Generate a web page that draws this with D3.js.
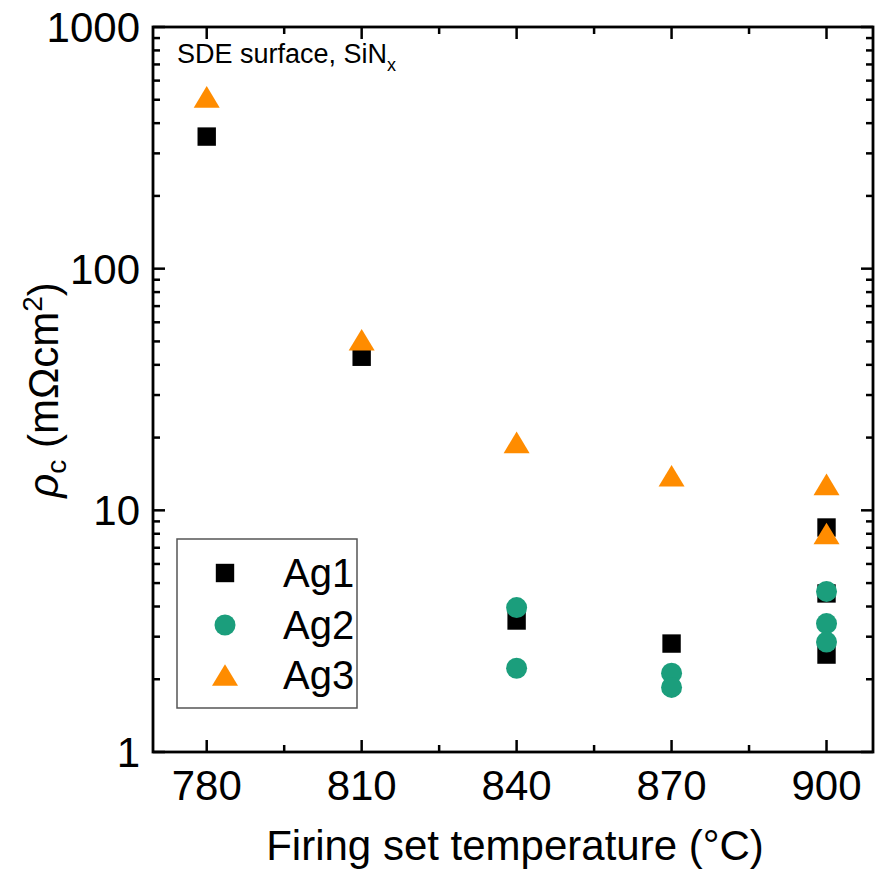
<!DOCTYPE html>
<html>
<head>
<meta charset="utf-8">
<script src="https://cdn.jsdelivr.net/npm/d3@7"></script>
<style>
  body { margin: 0; background: #fff; }
  svg { font-family: "Liberation Sans", Arial, sans-serif; }
</style>
</head>
<body>
<div id="chart"></div>
<script>
// contact resistivity vs firing temperature

// data
const xTicks = [780, 810, 840, 870, 900];
const xMinor = [795, 825, 855, 885];
const yTicks = [1, 10, 100, 1000];

const ag1Temp = [780, 810, 840, 870, 900, 900, 900];
const ag1Rho  = [352, 43.2, 3.50, 2.81, 8.49, 4.53, 2.53];

const ag2Temp = [840, 840, 870, 870, 900, 900, 900];
const ag2Rho  = [3.96, 2.22, 2.12, 1.85, 4.62, 3.40, 2.85];

const ag3Temp = [780, 810, 840, 870, 900, 900];
const ag3Rho  = [514, 50.8, 19.1, 13.9, 12.8, 8.02];

const seriesNames = ["Ag1", "Ag2", "Ag3"];
const colors = {Ag1: "#000000", Ag2: "#1b9e7c", Ag3: "#ff8c00"};

let margin = {top: 27, right: 7, bottom: 117, left: 153};
let width = 880 - margin.left - margin.right,
    height = 869 - margin.top - margin.bottom;

let svg = d3.select("#chart").append("svg")
    .attr("width", 880)
    .attr("height", 869);

let g = svg.append("g")
    .attr("transform", "translate(" + margin.left + "," + margin.top + ")");

let x = d3.scaleLinear().domain([769.6, 909]).range([0, width]);
let y = d3.scaleLog().domain([1, 1000]).range([height, 0]);

// minor ticks for log axis
let yMinor = [];
yTicks.slice(0, -1).forEach(t => {
    for (let k = 2; k <= 9; k++) yMinor.push(t * k);
});

// symbol paths
function squarePath(cx, cy) {
    let h = 9.2;
    return `M${cx - h},${cy - h}H${cx + h}V${cy + h}H${cx - h}Z`;
}
function trianglePath(cx, cy) {
    let w = 13, h = 10.8;
    return `M${cx},${cy - h}L${cx + w},${cy + h}L${cx - w},${cy + h}Z`;
}

// ticks on all four sides (inward)
let tickG = g.append("g").attr("stroke", "#000").attr("stroke-width", 2.5);
const majLen = 12, minLen = 7;

xTicks.forEach(t => {
    tickG.append("line").attr("x1", x(t)).attr("x2", x(t)).attr("y1", height).attr("y2", height - majLen);
    tickG.append("line").attr("x1", x(t)).attr("x2", x(t)).attr("y1", 0).attr("y2", majLen);
});
xMinor.forEach(t => {
    tickG.append("line").attr("x1", x(t)).attr("x2", x(t)).attr("y1", height).attr("y2", height - minLen);
    tickG.append("line").attr("x1", x(t)).attr("x2", x(t)).attr("y1", 0).attr("y2", minLen);
});
yTicks.forEach(t => {
    tickG.append("line").attr("x1", 0).attr("x2", majLen).attr("y1", y(t)).attr("y2", y(t));
    tickG.append("line").attr("x1", width).attr("x2", width - majLen).attr("y1", y(t)).attr("y2", y(t));
});
yMinor.forEach(t => {
    tickG.append("line").attr("x1", 0).attr("x2", minLen).attr("y1", y(t)).attr("y2", y(t));
    tickG.append("line").attr("x1", width).attr("x2", width - minLen).attr("y1", y(t)).attr("y2", y(t));
});

// frame
g.append("rect")
    .attr("x", 0).attr("y", 0)
    .attr("width", width).attr("height", height)
    .attr("fill", "none")
    .attr("stroke", "#000")
    .attr("stroke-width", 2.8);

// tick labels
g.append("g").selectAll("text")
    .data(xTicks).enter().append("text")
    .attr("x", d => x(d))
    .attr("y", height + 48)
    .attr("text-anchor", "middle")
    .attr("font-size", 42)
    .text(d => d);

g.append("g").selectAll("text")
    .data(yTicks).enter().append("text")
    .attr("x", -13)
    .attr("y", d => y(d))
    .attr("dy", "0.36em")
    .attr("text-anchor", "end")
    .attr("font-size", 42)
    .text(d => d);

// axis titles
svg.append("text")
    .attr("x", 515)
    .attr("y", 860)
    .attr("text-anchor", "middle")
    .attr("font-size", 42)
    .text("Firing set temperature (°C)");

let yLab = svg.append("text")
    .attr("transform", "translate(58,390) rotate(-90)")
    .attr("text-anchor", "middle")
    .attr("font-size", 42);
yLab.append("tspan").attr("font-style", "italic").text("ρ");
yLab.append("tspan").attr("font-size", 28).attr("dy", 8).text("c");
yLab.append("tspan").attr("dy", -8).text(" (mΩcm");
yLab.append("tspan").attr("font-size", 28).attr("dy", -16).text("2");
yLab.append("tspan").attr("dy", 16).text(")");

// annotation
let note = g.append("text")
    .attr("x", 24)
    .attr("y", 36)
    .attr("font-size", 27);
note.append("tspan").text("SDE surface, SiN");
note.append("tspan").attr("font-size", 18).attr("dy", 8).text("x");

// data points (drawn Ag1, Ag2, Ag3 so triangles end on top)
g.append("g").selectAll("path")
    .data(ag1Temp.map((t, i) => [t, ag1Rho[i]])).enter().append("path")
    .attr("d", d => squarePath(x(d[0]), y(d[1])))
    .attr("fill", colors.Ag1);

g.append("g").selectAll("circle")
    .data(ag2Temp.map((t, i) => [t, ag2Rho[i]])).enter().append("circle")
    .attr("cx", d => x(d[0]))
    .attr("cy", d => y(d[1]))
    .attr("r", 10.5)
    .attr("fill", colors.Ag2);

g.append("g").selectAll("path")
    .data(ag3Temp.map((t, i) => [t, ag3Rho[i]])).enter().append("path")
    .attr("d", d => trianglePath(x(d[0]), y(d[1])))
    .attr("fill", colors.Ag3);

// legend
let leg = svg.append("g");
leg.append("rect")
    .attr("x", 177).attr("y", 539)
    .attr("width", 180).attr("height", 169)
    .attr("fill", "#fff")
    .attr("stroke", "#555")
    .attr("stroke-width", 1.5);

let rowY = [573, 625, 675];
seriesNames.forEach((name, i) => {
    let cy = rowY[i];
    if (name == "Ag1") {
        leg.append("path").attr("d", squarePath(225, cy)).attr("fill", colors[name]);
    } else if (name == "Ag2") {
        leg.append("circle").attr("cx", 225).attr("cy", cy).attr("r", 10.5).attr("fill", colors[name]);
    } else {
        leg.append("path").attr("d", trianglePath(225, cy)).attr("fill", colors[name]);
    }
    leg.append("text")
        .attr("x", 283)
        .attr("y", cy)
        .attr("dy", "0.36em")
        .attr("font-size", 40)
        .text(name);
});
</script>
</body>
</html>
